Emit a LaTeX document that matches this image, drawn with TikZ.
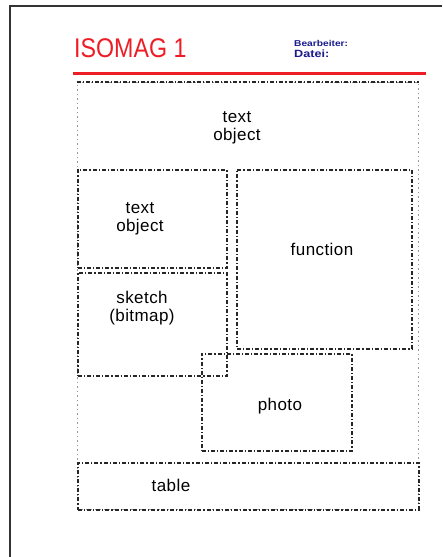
\documentclass[tikz,border=0pt]{standalone}
\usepackage{fontspec}
\setmainfont{Liberation Sans}
\newfontfamily\lblfont[LetterSpace=2.5]{Liberation Sans}
\usepackage{tikz}
\usetikzlibrary{positioning}
\definecolor{rotKopf}{HTML}{EE1C25}
\definecolor{blauInfo}{HTML}{1A1A8C}
\definecolor{grauRahmen}{HTML}{333333}

\begin{document}
\begin{tikzpicture}[
    x=1pt, y=-1pt,
    rahmen/.style={draw=grauRahmen, line width=2.4pt},
    kopf/.style={draw=rotKopf, line width=3pt},
    titel/.style={text=rotKopf, font=\fontsize{27}{30}\selectfont, inner sep=0pt},
    info/.style={text=blauInfo, font=\bfseries\fontsize{8.5}{10}\selectfont, inner sep=0pt, anchor=west},
    area/.style={rectangle, draw=black!40, line width=0.9pt, dash pattern=on 1.5pt off 3pt, inner sep=0pt},
    fld/.style={rectangle, draw=black!85, line width=1.5pt, dash pattern=on 4pt off 2pt on 1.2pt off 2pt, inner sep=0pt},
    lbl/.style={font=\lblfont\fontsize{17}{17.5}\selectfont, align=center, text=black, inner sep=0pt}
]
    \useasboundingbox (0,0) rectangle (442,557);
    \fill[white] (0,0) rectangle (442,557);

    % page frame
    \coordinate (fu) at (10,557);
    \coordinate (fo) at (10,6);
    \coordinate (fr) at (442,6);
    \draw[rahmen] (fu) -- (fo) -- (fr);

    % head
    \node[titel, anchor=west] (titel) at (74,48) {\scalebox{0.86}[1]{ISOMAG 1}};
    \node[info] (bearb) at (294,43) {\scalebox{1.2}[1]{Bearbeiter:}};
    \node[info, font=\bfseries\fontsize{10.5}{11}\selectfont] (datei) at (294,54) {\scalebox{1.2}[1]{Datei:}};
    \coordinate (kl) at (73,73);
    \coordinate (kr) at (426,73);
    \draw[kopf] (kl) -- (kr);

    % page area
    \node[area, anchor=north west, minimum width=341, minimum height=427] (seite) at (77,82) {};
    \draw[fld] (seite.north west) -- (seite.north east);

    % fields
    \node[fld, anchor=north west, minimum width=149, minimum height=98] (txtL) at (77,169) {};
    \node[fld, anchor=north west, minimum width=149, minimum height=103] (skizze) at (77,272) {};
    \node[fld, anchor=north west, minimum width=175, minimum height=179] (funktion) at (236,169) {};
    \node[fld, anchor=north west, minimum width=150, minimum height=97] (foto) at (201,353) {};
    \node[fld, anchor=north west, minimum width=341, minimum height=47] (tabelle) at (77,462) {};

    % labels
    \node[lbl] (lTop) at (237,128) {text\\object};
    \node[lbl] (lTxtL) at (140,219) {text\\object};
    \node[lbl] (lSkizze) at (142,308) {sketch\\(bitmap)};
    \node[lbl] (lFunktion) at (322,249) {function};
    \node[lbl] (lFoto) at (280,406) {photo};
    \node[lbl] (lTabelle) at (171,485) {table};
\end{tikzpicture}
\end{document}
